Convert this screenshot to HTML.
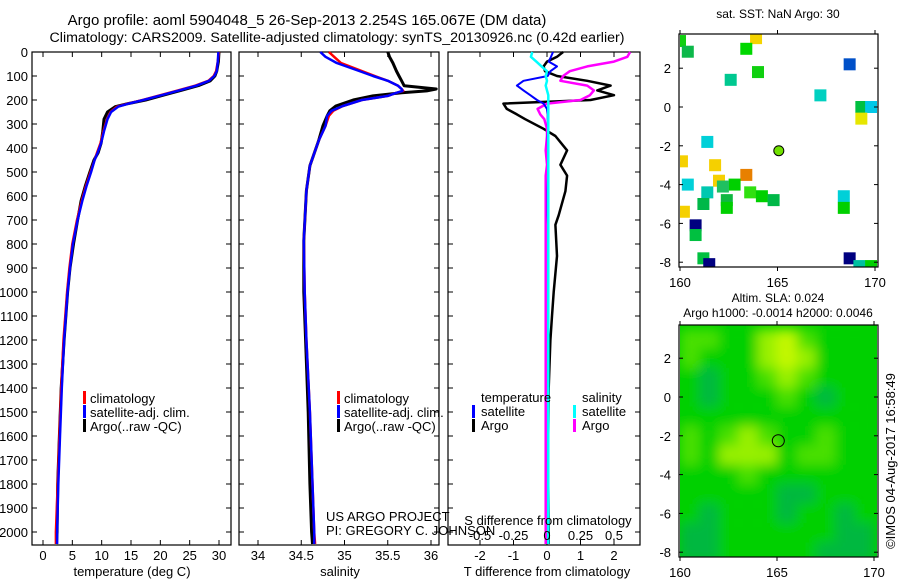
<!DOCTYPE html>
<html><head><meta charset="utf-8"><style>
body{margin:0;background:#fff;}
svg{display:block;font-family:"Liberation Sans",sans-serif;}
text{fill:#000;}
</style></head><body>
<svg id="c" width="900" height="580" viewBox="0 0 900 580" xmlns="http://www.w3.org/2000/svg">
<text x="307" y="25" font-size="15" text-anchor="middle">Argo profile: aoml 5904048_5 26-Sep-2013 2.254S 165.067E (DM data)</text>
<text x="337" y="42" font-size="14.2" text-anchor="middle">Climatology: CARS2009. Satellite-adjusted climatology: synTS_20130926.nc (0.42d earlier)</text>
<g id="g"></g>
</svg>
<script>
// ---- data ----
const tP=[0,40,80,100,120,140,160,180,200,215,228,250,280,330,380,420,450,500,560,620,700,800,900,1000,1200,1400,1600,1800,2000,2050];
const tArgo=[30,29.9,29.6,29.3,28.5,26.5,23.5,20.5,17.5,14.5,12.3,11.0,10.4,10.2,9.9,9.4,8.7,8.0,7.2,6.5,5.9,5.2,4.6,4.2,3.6,3.1,2.8,2.5,2.4,2.3];
const tClim=[30,29.8,29.5,29.1,28.2,26.0,23.0,20.0,17.0,14.5,12.6,11.5,10.9,10.3,9.8,9.2,8.8,8.1,7.3,6.6,5.8,5.0,4.5,4.1,3.5,3.1,2.8,2.5,2.2,2.2];
const tSat=[29.9,29.8,29.6,29.2,28.3,26.2,23.2,20.2,17.1,14.6,12.8,11.6,11.0,10.4,9.9,9.3,8.8,8.2,7.4,6.7,5.9,5.1,4.6,4.2,3.6,3.2,2.9,2.6,2.4,2.4];
const sP=[0,20,46,79,100,120,141,154,162,170,183,200,225,245,266,308,370,474,578,786,1000,1200,1500,1800,2000,2050];
const sArgo=[35.5,35.52,35.56,35.6,35.63,35.66,35.69,36.06,35.95,35.66,35.33,35.1,34.9,34.83,34.8,34.75,34.7,34.6,34.56,34.53,34.53,34.55,34.58,34.6,34.62,34.63];
const sClim=[34.82,34.88,34.96,35.2,35.35,35.5,35.62,35.66,35.68,35.6,35.5,35.2,34.98,34.87,34.82,34.78,34.7,34.6,34.56,34.53,34.54,34.56,34.6,34.63,34.65,34.66];
const sSat=[34.72,34.78,34.91,35.17,35.33,35.5,35.62,35.66,35.67,35.6,35.5,35.2,34.98,34.85,34.8,34.78,34.7,34.6,34.56,34.53,34.54,34.56,34.6,34.63,34.65,34.65];
const dP=[0,20,40,60,80,100,120,140,160,180,200,215,237,260,280,320,350,410,470,515,580,680,720,850,1000,1100,1200,1400,1700,2000,2050];
const dTargo=[0.48,0.3,0.0,-0.1,-0.06,0.3,1.2,1.9,1.5,2.0,1.3,-1.3,-1.2,-0.9,-0.65,-0.1,0.25,0.6,0.4,0.6,0.55,0.35,0.25,0.3,0.2,0.15,0.1,0.05,0.03,0.05,0.05];
const dTsat=[0.18,0.12,0.05,0.3,0.1,0.02,-0.7,-0.9,-0.7,-0.5,-0.3,-0.1,0.0,0.02,0.02,0.03,0.02,0.03,0.03,0.03,0.02,0.02,0.03,0.03,0.03,0.03,0.03,0.03,0.03,0.03,0.03];
const dSargo=[0.62,0.6,0.5,0.3,0.17,0.12,0.1,0.3,0.35,0.32,0.25,0.0,-0.07,-0.05,-0.02,0.0,0.0,-0.01,0.0,-0.01,-0.01,-0.01,-0.01,-0.01,-0.01,-0.01,-0.01,-0.01,-0.01,-0.01,-0.01];
const dSsat=[-0.11,-0.12,-0.08,-0.04,0.0,-0.01,0.0,-0.01,0.0,0.01,0.01,0.01,0.01,0.01,0.01,0.01,0.01,0.01,0.01,0.01,0.01,0.01,0.01,0.01,0.01,0.01,0.01,0.01,0.01,0.01,0.01];
const sstLon=[160.0,160.4,163.9,163.4,164.0,162.6,168.7,167.2,169.3,169.8,169.3,161.4,160.1,161.8,163.4,162.0,160.4,162.8,161.4,162.2,163.6,164.2,164.8,162.4,162.4,161.2,168.4,168.4,160.2,160.8,160.8,161.2,161.5,168.7,169.2,169.8];
const sstLat=[3.4,2.85,3.55,3.0,1.8,1.4,2.2,0.6,0.0,0.0,-0.6,-1.8,-2.8,-3.0,-3.5,-3.8,-4.0,-4.0,-4.4,-4.1,-4.4,-4.6,-4.8,-4.8,-5.2,-5.0,-4.6,-5.2,-5.4,-6.1,-6.6,-7.8,-8.1,-7.8,-8.2,-8.2];
const sstCol=["#10d010","#0cb84a","#f5d400","#00d800","#10d010","#00c890","#0050c8","#00d0c0","#00c040","#00c8e8","#e6e600","#00d0d8","#f5d000","#f5d000","#e88000","#f5d000","#00d0d8","#00d000","#00c8b0","#20c060","#30e010","#00d000","#00b848","#10b840","#00d000","#00b848","#00d0d8","#00d000","#f5d000","#000080","#00c040","#00c040","#000080","#000080","#00c0a0","#00d000"];
const slaLats=[3,2,1,0,-1,-2,-3,-4,-5,-6,-7,-8];
const slaLons=[160.5,161.5,162.5,163.5,164.5,165.5,166.5,167.5,168.5,169.5];
const slaGrid=[
[2,2,1,1,3,4,2,1,1,1],[2,1,1,1,3,4,3,1,1,1],[1,0,1,1,2,3,2,1,1,1],[1,0,1,1,1,2,1,0,1,1],
[1,1,1,1,1,1,1,1,1,1],[2,1,2,3,2,1,1,2,1,1],[2,1,3,3,3,1,2,2,1,1],[1,1,1,2,1,1,1,1,1,1],
[1,1,1,1,1,0,0,1,1,1],[1,0,1,1,1,0,1,1,0,1],[0,0,1,1,1,1,1,1,0,0],[0,0,1,1,1,1,1,0,0,0]];
const slaColors=["#00b840","#00d000","#48e000","#98f000","#c4f800"];
const depthTicks=[0,100,200,300,400,500,600,700,800,900,1000,1100,1200,1300,1400,1500,1600,1700,1800,1900,2000];
const tTicks=[0,5,10,15,20,25,30];
const sTicks=[34,34.5,35,35.5,36];
const dTTicks=[-2,-1,0,1,2];
const dSTicks=[-0.5,-0.25,0,0.25,0.5];
const latTicks=[2,0,-2,-4,-6,-8];
const lonTicks=[160,165,170];
const argoLon=165.067, argoLat=-2.254;

// ---- helpers ----
const NS="http://www.w3.org/2000/svg";
const G=document.getElementById('g');
function mk(tag,attrs,parent){const e=document.createElementNS(NS,tag);for(const k in attrs)e.setAttribute(k,attrs[k]);(parent||G).appendChild(e);return e;}
const yD=p=>52+p*0.24;
const xT=v=>43+v*5.867;
const xS=v=>258+(v-34)*86.5;
const xDT=v=>547+v*33.5;
const xDS=v=>547+v*134;

function frame(x0,x1,y0,y1,name){
  const r=mk('rect',{x:x0,y:y0,width:x1-x0,height:y1-y0,fill:'none',stroke:'#000','stroke-width':1.2});
  
  
}
function line(xf,vals,P,col,name,w){
  const d=vals.map((v,i)=>(i?'L':'M')+xf(v).toFixed(1)+','+yD(P[i]).toFixed(1)).join('');
  const p=mk('path',{d:d,fill:'none',stroke:col,'stroke-width':w||2.5,'stroke-linejoin':'round'});
  
  
}
function txt(x,y,s,size,anchor,name){
  const t=mk('text',{x:x,y:y,'font-size':size,'text-anchor':anchor||'start'});
  t.textContent=s;
  
  
  return t;
}
function xTicks(xf,ticks,x0,x1,y0,y1,labY,name,top){
  ticks.forEach(v=>{const x=xf(v);
    mk('line',{x1:x,x2:x,y1:y1,y2:y1-5,stroke:'#000'});
    if(top!==false) mk('line',{x1:x,x2:x,y1:y0,y2:y0+5,stroke:'#000'});
    if(labY) txt(x,labY,String(v),13,'middle',name);
  });
}
function yDepth(x0,x1,labels){
  depthTicks.forEach(p=>{const y=yD(p);
    mk('line',{x1:x0,x2:x0+5,y1:y,y2:y,stroke:'#000'});
    mk('line',{x1:x1,x2:x1-5,y1:y,y2:y,stroke:'#000'});
    if(labels) txt(28,y+5,String(p),13,'end','depth-tick-label');
  });
}
function legBar(x,y,col){const r=mk('rect',{x:x,y:y-7,width:3,height:13,fill:col});
  
  }

// ---- panel 1: temperature ----
frame(32,231,52,545,'temperature-panel-frame');
yDepth(32,231,true);
xTicks(xT,tTicks,32,231,52,545,560,'temperature-tick-label');
line(xT,tArgo,tP,'#000','temperature-argo-line',3);
line(xT,tClim,tP,'#f00','temperature-climatology-line',2.5);
line(xT,tSat,tP,'#00f','temperature-satellite-line',2.5);
txt(132,576,'temperature (deg C)',13,'middle','temperature-axis-title');
[['#f00','climatology'],['#00f','satellite-adj. clim.'],['#000','Argo(..raw -QC)']].forEach((e,i)=>{
  legBar(83,398+i*14,e[0]);txt(90,403+i*14,e[1],13,'start','legend-entry');});

// ---- panel 2: salinity ----
frame(239,439,52,545,'salinity-panel-frame');
yDepth(239,439,false);
xTicks(xS,sTicks,239,439,52,545,560,'salinity-tick-label');
line(xS,sArgo,sP,'#000','salinity-argo-line',3);
line(xS,sClim,sP,'#f00','salinity-climatology-line',2.5);
line(xS,sSat,sP,'#00f','salinity-satellite-line',2.5);
txt(340,576,'salinity',13,'middle','salinity-axis-title');
[['#f00','climatology'],['#00f','satellite-adj. clim.'],['#000','Argo(..raw -QC)']].forEach((e,i)=>{
  legBar(337,398+i*14,e[0]);txt(344,403+i*14,e[1],13,'start','legend-entry');});
txt(326,521,'US ARGO PROJECT',13,'start','project-label');
txt(326,535,'PI: GREGORY C. JOHNSON',13,'start','pi-label');

// ---- panel 3: differences ----
frame(448,640,52,545,'difference-panel-frame');
yDepth(448,640,false);
xTicks(xDT,dTTicks,448,640,52,545,560,'t-diff-tick-label',true);
line(xDT,dTargo,dP,'#000','t-diff-argo-line',2.5);
line(xDS,dSargo,dP,'#f0f','s-diff-argo-line',2.5);
line(xDT,dTsat,dP,'#00f','t-diff-satellite-line',2);
line(xDS,dSsat,dP,'#0ff','s-diff-satellite-line',2.5);
txt(548,525,'S difference from climatology',13,'middle','s-diff-axis-title');
dSTicks.forEach(v=>txt(xDS(v),540,String(v),13,'middle','s-diff-tick-label'));
txt(547,576,'T difference from climatology',13,'middle','t-diff-axis-title');
txt(481,402,'temperature',13,'start','legend-header-temperature');
txt(582,402,'salinity',13,'start','legend-header-salinity');
legBar(472,412,'#00f');txt(481,416,'satellite',13,'start','legend-entry');
legBar(472,426,'#000');txt(481,430,'Argo',13,'start','legend-entry');
legBar(573,412,'#0ff');txt(582,416,'satellite',13,'start','legend-entry');
legBar(573,426,'#f0f');txt(582,430,'Argo',13,'start','legend-entry');

// ---- map helpers ----
function mapAxes(x0,x1,y0,y1,lonX,latY,name){
  frame(x0,x1,y0,y1,name);
  latTicks.forEach(v=>{const y=latY(v);
    mk('line',{x1:x0,x2:x0+4,y1:y,y2:y,stroke:'#000'});mk('line',{x1:x1,x2:x1-4,y1:y,y2:y,stroke:'#000'});
    txt(x0-8,y+5,String(v),13,'end','lat-tick-label');});
  lonTicks.forEach(v=>{const x=lonX(v);
    mk('line',{x1:x,x2:x,y1:y0,y2:y0-4,stroke:'#000'});mk('line',{x1:x,x2:x,y1:y1,y2:y1+4,stroke:'#000'});
    txt(x,y1+20,String(v),13,'middle','lon-tick-label');});
}
// ---- SST map ----
const lonA=v=>680+(v-160)*19.5, latA=v=>107-v*19.4;
txt(778,18,'sat. SST: NaN Argo: 30',12,'middle','sst-map-title');
const cp1=mk('clipPath',{id:'cp1'});mk('rect',{x:680,y:34,width:197,height:233},cp1);
const sg=mk('g',{'clip-path':'url(#cp1)'});
sstLon.forEach((lo,i)=>{const r=mk('rect',{x:lonA(lo)-6,y:latA(sstLat[i])-6,width:12,height:12,fill:sstCol[i]},sg);
  
  });
mapAxes(679,878,34,267,lonA,latA,'sst-map-frame');
const c1=mk('circle',{cx:lonA(argoLon),cy:latA(argoLat),r:5,fill:'#70e000',stroke:'#000','stroke-width':1});



// ---- SLA map ----
const lonB=v=>680+(v-160)*19.4, latB=v=>397-v*19.4;
txt(778,302,'Altim. SLA: 0.024',12,'middle','sla-map-title');
txt(778,317,'Argo h1000: -0.0014 h2000: 0.0046',12,'middle','sla-map-subtitle');
const cp2=mk('clipPath',{id:'cp2'});mk('rect',{x:680,y:325,width:197,height:232},cp2);
mk('filter',{id:'bl',x:'-10%',y:'-10%',width:'120%',height:'120%'});
mk('feGaussianBlur',{stdDeviation:6},document.getElementById('bl'));
const outer=mk('g',{'clip-path':'url(#cp2)'});
mk('rect',{x:680,y:325,width:197,height:232,fill:slaColors[1]},outer);
const bg=mk('g',{filter:'url(#bl)'},outer);
slaGrid.forEach((row,ri)=>row.forEach((v,ci)=>{
  const r=mk('rect',{x:lonB(slaLons[ci]-0.5),y:latB(slaLats[ri]+0.5),width:19.6,height:19.6,fill:slaColors[v]},bg);
  
  }));
mapAxes(679,878,325,557,lonB,latB,'sla-map-frame');
const c2=mk('circle',{cx:lonB(argoLon),cy:latB(argoLat),r:6,fill:'none',stroke:'#000','stroke-width':1});


const cr=txt(0,0,'©IMOS 04-Aug-2017 16:58:49',13,'middle','copyright-label');
cr.setAttribute('transform','translate(895,461) rotate(-90)');
</script>
</body></html>
